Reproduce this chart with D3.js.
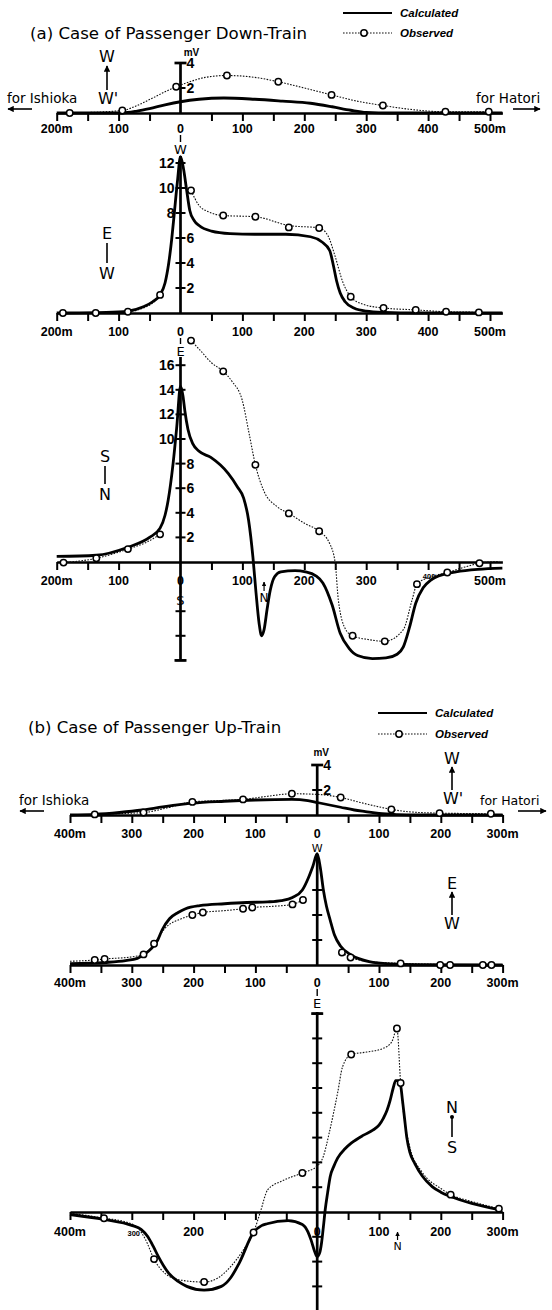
<!DOCTYPE html>
<html><head><meta charset="utf-8">
<script src="https://cdn.jsdelivr.net/npm/d3@7"></script>
<style>body{margin:0;background:#fff}svg{display:block}</style>
</head><body>
<script>
// ---------- DATA ----------
// (a) Passenger Down-Train : distance (m, negative = toward Ishioka), mV
const aXLabelValues = [-200,-100,0,100,200,300,400,500];
const aXLabels = ["200m","100","0","100","200","300","400","500m"];
const a3XLabelValues = [-200,-100,0,100,200,300,500];
const a3XLabels = ["200m","100","0","100","200","300","500m"];

const a1YTicks = [2,4];
const a2YTicks = [2,4,6,8,10,12];
const a3YTicks = [16,14,12,10,8,6,4,2,-4,-6,-8];

const a1Calc = [[-200,0],[-95,0],[-70,0.15],[-50,0.35],[-25,0.65],[0,0.9],[30,1.1],[70,1.2],[120,1.1],[165,0.95],[210,0.78],[245,0.5],[275,0.22],[300,0.05],[340,0],[520,0]];
const a1ObsLine = [[-179,0],[-94,0.2],[-70,0.6],[-45,1.2],[-25,1.7],[-7,2.1],[15,2.5],[40,2.85],[75,3.0],[120,2.85],[158,2.5],[200,2.0],[244,1.45],[285,0.95],[327,0.6],[370,0.3],[428,0.1],[498,0.1]];
const a1ObsPts = [[-179,0],[-94,0.2],[-7,2.1],[75,3.0],[158,2.5],[244,1.45],[327,0.6],[428,0.1],[498,0.1]];

const a2Calc = [[-200,0],[-120,0.05],[-85,0.15],[-60,0.5],[-45,0.9],[-33,1.45],[-25,2.4],[-19,4.0],[-14,6],[-10,8],[-5,10.5],[0,12.5],[5,11.5],[10,9.8],[15,8.2],[22,7.4],[30,7.0],[50,6.55],[80,6.35],[120,6.3],[170,6.3],[210,6.1],[228,5.7],[241,5.0],[247,3.8],[252,2.6],[258,1.6],[266,0.9],[280,0.4],[300,0.15],[330,0.05],[380,0],[520,0]];
const a2ObsLine = [[-190,0],[-137,0],[-85,0.1],[-60,0.4],[-45,0.8],[-33,1.45],null,[17,9.8],[30,8.6],[45,8.1],[69,7.8],[121,7.7],[175,7.0],[224,6.8],[238,6.2],[250,4.5],[262,2.5],[275,1.3],[295,0.7],[328,0.4],[380,0.25],[429,0.1],[482,0.05],[505,0]];
const a2ObsPts = [[-190,0],[-137,0],[-85,0.1],[-33,1.45],[17,9.8],[69,7.8],[121,7.7],[175,6.85],[224,6.8],[275,1.3],[328,0.4],[380,0.25],[429,0.1],[482,0.05]];

const a3Calc = [[-200,0.45],[-136,0.55],[-85,1.2],[-50,2.0],[-33,2.75],[-25,3.8],[-20,5.0],[-12,8],[-6,11],[0,14.3],[4,13.5],[7,12.3],[12,10.8],[20,9.6],[30,9.0],[49,8.5],[77,7.2],[92,6.1],[102,5.2],[110,3.4],[117,0.4],[122,-2.5],[127,-5],[131,-6.0],[135,-5.5],[140,-3.8],[145,-2.3],[152,-1.2],[162,-0.8],[185,-0.7],[202,-0.8],[218,-1.1],[230,-1.7],[245,-3.5],[258,-5.8],[272,-7.0],[286,-7.6],[310,-7.85],[332,-7.8],[350,-7.5],[360,-6.9],[370,-5.3],[380,-3.35],[392,-2.1],[405,-1.45],[425,-1.0],[445,-0.8],[480,-0.6],[520,-0.5]];
const a3ObsLine = [[-189,-0.05],[-136,0.3],[-85,1.05],[-55,1.6],[-33,2.25],null,[17,18.0],[32,17.2],[50,16.2],[69,15.5],[83,14.7],[100,13.1],[111,10.4],[121,7.9],[134,5.85],[156,4.5],[175,3.95],[202,3.1],[224,2.5],[241,1.5],[250,-0.1],[255,-3.1],[267,-5.5],[278,-6.0],[303,-6.3],[330,-6.45],[360,-5.5],[374,-3.1],[382,-1.8],[405,-1.2],[431,-0.85],[460,-0.4],[483,-0.1],[515,0.05]];
const a3ObsPts = [[-189,-0.05],[-136,0.3],[-85,1.05],[-33,2.25],[17,18.0],[69,15.5],[121,7.9],[175,3.95],[224,2.5],[278,-6.0],[330,-6.45],[382,-1.8],[431,-0.85],[483,-0.1]];

// (b) Passenger Up-Train
const bXLabelValues = [-400,-300,-200,-100,0,100,200,300];
const bXLabels = ["400m","300","200","100","0","100","200","300m"];
const b3XLabelValues = [-400,-200,0,100,200,300];
const b3XLabels = ["400m","200","0","100","200","300m"];

const b1YTicks = [2,4];
const b2YTicks = [2,4,6];
const b3YTicks = [16,14,12,10,8,6,4,2,-2,-4,-6,-8];

const b1Calc = [[-400,0],[-360,0.05],[-320,0.2],[-283,0.4],[-250,0.65],[-220,0.85],[-202,0.95],[-150,1.1],[-100,1.2],[-41,1.25],[-15,1.15],[0,1.0],[20,0.8],[38,0.62],[60,0.4],[78,0.27],[100,0.12],[130,0.03],[160,0],[300,0]];
const b1ObsLine = [[-370,0.03],[-360,0.05],[-281,0.2],[-240,0.6],[-202,1.05],[-160,1.15],[-120,1.25],[-80,1.5],[-41,1.7],[0,1.65],[38,1.4],[70,1.0],[100,0.65],[120,0.45],[150,0.25],[198,0.15],[240,0.12],[281,0.1]];
const b1ObsPts = [[-360,0.05],[-281,0.2],[-202,1.05],[-120,1.25],[-41,1.7],[38,1.4],[120,0.45],[198,0.15],[281,0.1]];

const b2Calc = [[-400,0.1],[-343,0.2],[-310,0.35],[-291,0.53],[-280,0.85],[-268,1.33],[-258,2.0],[-251,2.8],[-239,3.7],[-225,4.2],[-213,4.5],[-190,4.75],[-150,4.9],[-114,5.0],[-80,5.05],[-58,5.15],[-40,5.4],[-24,6.0],[-14,7.0],[-7,7.9],[0,8.9],[5,7.8],[10,6.0],[15,4.7],[21,3.6],[28,2.4],[38,1.5],[55,0.8],[84,0.27],[120,0.08],[160,0.02],[300,0]];
const b2ObsLine = [[-400,0.3],[-360,0.4],[-344,0.48],[-300,0.65],[-281,0.85],[-264,1.7],[-245,3.0],[-220,3.7],[-202,4.0],[-185,4.2],[-150,4.35],[-120,4.5],[-105,4.6],[-70,4.7],[-40,4.85],[-23,5.2],null,[40,1.0],[54,0.6],[90,0.25],[135,0.13],[199,0.05],[215,0.03],[268,0.02],[282,0]];
const b2ObsPts = [[-360,0.4],[-344,0.48],[-281,0.85],[-264,1.7],[-202,4.0],[-185,4.2],[-120,4.5],[-105,4.6],[-40,4.85],[-23,5.2],[40,1.0],[54,0.6],[135,0.13],[199,0],[215,0],[268,0],[282,0]];

const b3Calc = [[-400,-0.2],[-345,-0.6],[-299,-1.1],[-285,-1.4],[-274,-2.0],[-265,-2.8],[-257,-3.6],[-240,-4.95],[-225,-5.6],[-211,-6.0],[-183,-6.3],[-155,-6.0],[-140,-5.3],[-126,-4.1],[-103,-1.65],[-90,-1.1],[-81,-0.95],[-47,-0.7],[-24,-1.0],[-15,-1.6],[-10,-2.25],[-4,-3.2],[0,-3.6],[4,-3.3],[7,-2.5],[10,-1.2],[13,0.2],[17,1.6],[21,2.85],[27,3.7],[33,4.35],[45,5.1],[55,5.55],[75,6.2],[90,6.6],[100,7.0],[107,7.55],[113,8.2],[118,9.0],[123,10.0],[127,10.6],[131,10.6],[135,10.2],[138,9.0],[141,7.7],[145,6.0],[150,4.8],[158,3.9],[170,2.9],[186,2.05],[200,1.6],[216,1.25],[250,0.7],[294,0.2]];
const b3ObsLine = [[-400,-0.1],[-370,-0.3],[-345,-0.5],[-310,-0.8],[-290,-1.3],[-278,-2.2],[-264,-3.8],[-245,-5.0],[-220,-5.5],[-183,-5.65],[-160,-5.3],[-140,-4.4],[-120,-3.1],[-103,-1.65],[-92,0],[-80,1.8],[-57,2.5],[-24,3.15],[0,3.7],[10,4.5],[20,6.5],[33,9.6],[41,11.7],[55,12.7],[80,12.9],[107,13.2],[121,13.75],[129,14.8],[135,10.4],[150,5.2],[170,3.2],[200,1.9],[216,1.4],[250,0.85],[294,0.27]];
const b3ObsPts = [[-345,-0.5],[-264,-3.8],[-183,-5.65],[-103,-1.65],[-24,3.15],[55,12.7],[129,14.8],[135,10.4],[216,1.4],[294,0.27]];

// ---------- DRAWING ----------
const W = 552, H = 1310;
const svg = d3.select("body").append("svg").attr("width", W).attr("height", H);
const defs = svg.append("defs");
defs.append("marker").attr("id","ah").attr("viewBox","0 0 10 10").attr("refX",9).attr("refY",5)
  .attr("markerWidth",4).attr("markerHeight",4).attr("orient","auto")
  .append("path").attr("d","M0,0L10,5L0,10Z").attr("fill","#000");

const NUM = "'Liberation Sans Narrow','Liberation Sans',sans-serif";
const SANS = "'DejaVu Sans',sans-serif";

const xa = d3.scaleLinear().domain([-200, 520]).range([180.5 - 200*0.619, 180.5 + 520*0.619]);
const xb = d3.scaleLinear().domain([-400, 300]).range([317.2 - 400*0.618, 317.2 + 300*0.618]);
function ys(zero, ppu){ return d3.scaleLinear().domain([0,1]).range([zero, zero - ppu]); }

const ya1 = ys(113, 12.5), ya2 = ys(313, 12.5), ya3 = ys(562, 12.3);
const yb1 = ys(815, 12.5), yb2 = ys(965, 12.5), yb3 = ys(1212, 12.4);

function xAxis(x, y, tickVals){
  const g = svg.append("g").attr("transform", `translate(0,${y(0)})`)
    .call(d3.axisBottom(x).tickValues(tickVals).tickSize(8).tickSizeOuter(0).tickFormat(""));
  g.select(".domain").attr("stroke","#000").attr("stroke-width",2.7);
  g.selectAll(".tick line").attr("stroke","#000").attr("stroke-width",2);
}
function xLabels(x, ly, vals, labels){
  svg.append("g").selectAll("text").data(vals).join("text")
    .attr("x", d => x(d)).attr("y", ly).attr("text-anchor","middle")
    .attr("dominant-baseline","central")
    .style("font-family", NUM).style("font-weight","bold").style("font-size","12.5px")
    .text((d,i) => labels[i]);
}
function yAxis(x0, y, top, bottom, ticks, labRight, labLeft, bars){
  svg.append("line").attr("x1",x0).attr("x2",x0).attr("y1",top).attr("y2",bottom)
    .attr("stroke","#000").attr("stroke-width",2.7);
  svg.append("g").selectAll("line").data(ticks).join("line")
    .attr("x1",x0-5).attr("x2",x0+5).attr("y1",d=>y(d)).attr("y2",d=>y(d))
    .attr("stroke","#000").attr("stroke-width",2);
  svg.append("g").selectAll("line").data(bars).join("line")
    .attr("x1",x0-6).attr("x2",x0+6).attr("y1",d=>y(d)).attr("y2",d=>y(d))
    .attr("stroke","#000").attr("stroke-width",2.7);
  const st = s => s.style("font-family",NUM).style("font-weight","bold").style("font-size","14px")
    .attr("dominant-baseline","central");
  svg.append("g").selectAll("text").data(labRight).join("text")
    .attr("x",x0+6).attr("y",d=>y(d)).attr("text-anchor","start").call(st).text(d=>d);
  svg.append("g").selectAll("text").data(labLeft).join("text")
    .attr("x",x0-6).attr("y",d=>y(d)).attr("text-anchor","end").call(st).text(d=>d);
}
function curves(x, y, calc, obsLine, obsPts){
  const line = d3.line().defined(d => d !== null).x(d => x(d[0])).y(d => y(d[1])).curve(d3.curveMonotoneX);
  svg.append("path").datum(obsLine).attr("d", line).attr("fill","none")
    .attr("stroke","#111").attr("stroke-width",1.1).attr("stroke-dasharray","1.6,1.4");
  svg.append("path").datum(calc).attr("d", line).attr("fill","none")
    .attr("stroke","#000").attr("stroke-width",2.8).attr("stroke-linejoin","round");
  svg.append("g").selectAll("circle").data(obsPts).join("circle")
    .attr("cx", d => x(d[0])).attr("cy", d => y(d[1])).attr("r",3.2)
    .attr("fill","#fff").attr("stroke","#000").attr("stroke-width",1.5);
}
function text(x, y, s, size, opts={}){
  const t = svg.append("text").attr("x",x).attr("y",y).attr("dominant-baseline","central")
    .attr("text-anchor", opts.anchor || "start")
    .style("font-family", opts.family || SANS).style("font-size", size+"px")
    .style("font-weight", opts.weight || "normal").text(s);
  if (opts.style) t.style("font-style", opts.style);
  return t;
}
function seg(x1,y1,x2,y2,w,arrow){
  const l = svg.append("line").attr("x1",x1).attr("y1",y1).attr("x2",x2).attr("y2",y2)
    .attr("stroke","#000").attr("stroke-width",w||1.6);
  if (arrow) l.attr("marker-end","url(#ah)");
}
function legend(x0, x1, yc, yo, cx){
  seg(x0, yc, x1, yc, 2.2);
  text(x1+8, yc, "Calculated", 11.5, {family:NUM, weight:"bold", style:"italic"});
  svg.append("line").attr("x1",x0).attr("x2",x1).attr("y1",yo).attr("y2",yo)
    .attr("stroke","#111").attr("stroke-width",1.1).attr("stroke-dasharray","1.6,1.4");
  svg.append("circle").attr("cx",cx).attr("cy",yo).attr("r",3.2).attr("fill","#fff").attr("stroke","#000").attr("stroke-width",1.5);
  text(x1+8, yo, "Observed", 11.5, {family:NUM, weight:"bold", style:"italic"});
}
function zeroTag(x0, yNum, yLet, letter, size){
  if (yLet - yNum > 16) seg(x0, yNum+6, x0, yLet-7, 1.4);
  text(x0, yLet, letter, size || 13, {anchor:"middle"});
}

const FOR = {family:SANS};
// ----- (a) -----
text(30, 33, "(a) Case of Passenger Down-Train", 16.6);
legend(343, 392, 13, 33, 364);
const aTicks = d3.range(-200, 501, 50).filter(v => v !== 0);

// a1
text(7, 98, "for Ishioka", 13.5, FOR);
seg(32, 109, 8, 109, 1.6, true);
text(476, 98, "for Hatori", 13.5, FOR);
seg(513, 109, 540, 109, 1.6, true);
text(107, 56, "W", 16, {anchor:"middle"});
seg(107, 90, 107, 66, 1.6, true);
text(108, 98, "W'", 16, {anchor:"middle"});
xAxis(xa, ya1, aTicks);
xLabels(xa, 129, aXLabelValues, aXLabels);
yAxis(xa(0), ya1, ya1(4), ya1(0), [2], [4,2], [], [4]);
text(xa(0)+11, 52, "mV", 10, {family:NUM, weight:"bold", anchor:"middle"});
curves(xa, ya1, a1Calc, a1ObsLine, a1ObsPts);

// a2
zeroTag(xa(0), 129, 149, "W");
text(107, 233, "E", 16, {anchor:"middle"});
seg(107, 243, 107, 263, 1.6);
text(107, 273, "W", 16, {anchor:"middle"});
xAxis(xa, ya2, aTicks);
xLabels(xa, 332, aXLabelValues, aXLabels);
yAxis(xa(0), ya2, 156, ya2(0), a2YTicks, [6,4,2], [12,10,8], []);
curves(xa, ya2, a2Calc, a2ObsLine, a2ObsPts);

// a3
zeroTag(xa(0), 332, 351, "E");
text(105, 456, "S", 16, {anchor:"middle"});
seg(105, 466, 105, 484, 1.6);
text(105, 494, "N", 16, {anchor:"middle"});
xAxis(xa, ya3, aTicks);
xLabels(xa, 581, a3XLabelValues, a3XLabels);
text(xa(400)+1, 576, "400", 7.5, {family:NUM, weight:"bold", anchor:"middle"});
yAxis(xa(0), ya3, 357, ya3(-8), a3YTicks, [8,6,4,2], [16,14,12,10], [-8]);
zeroTag(xa(0), 581, 600, "S");
curves(xa, ya3, a3Calc, a3ObsLine, a3ObsPts);
seg(xa(135), 591, xa(135), 582, 1.2, true);
text(xa(135), 598, "N", 12, {anchor:"middle"});

// ----- (b) -----
text(28, 727, "(b) Case of Passenger Up-Train", 16.6);
legend(378, 427, 713, 734, 399);
const bTicks = d3.range(-400, 301, 50).filter(v => v !== 0);

// b1
text(19, 800, "for Ishioka", 13.5, FOR);
seg(44, 811, 20, 811, 1.6, true);
text(480, 800, "for Hatori", 12.5, FOR);
seg(518, 811, 546, 811, 1.6, true);
text(452, 758, "W", 16, {anchor:"middle"});
seg(452, 790, 452, 767, 1.6, true);
text(453, 798, "W'", 16, {anchor:"middle"});
xAxis(xb, yb1, bTicks);
xLabels(xb, 834, bXLabelValues, bXLabels);
yAxis(xb(0), yb1, yb1(4), yb1(0), [2], [4,2], [], [4]);
text(xb(0)+4, 752, "mV", 10, {family:NUM, weight:"bold", anchor:"middle"});
curves(xb, yb1, b1Calc, b1ObsLine, b1ObsPts);

// b2
zeroTag(xb(0), 834, 848, "W", 11);
text(452, 883, "E", 16, {anchor:"middle"});
seg(452, 915, 452, 892, 1.6, true);
text(452, 923, "W", 16, {anchor:"middle"});
xAxis(xb, yb2, bTicks);
xLabels(xb, 983, bXLabelValues, bXLabels);
yAxis(xb(0), yb2, 854, yb2(0), b2YTicks, [], [], []);
curves(xb, yb2, b2Calc, b2ObsLine, b2ObsPts);

// b3
zeroTag(xb(0), 983, 1003, "E");
text(452, 1107, "N", 16, {anchor:"middle"});
svg.append("circle").attr("cx",452).attr("cy",1117).attr("r",2).attr("fill","#000");
seg(452, 1117, 452, 1137, 1.6);
text(452, 1147, "S", 16, {anchor:"middle"});
xAxis(xb, yb3, bTicks);
xLabels(xb, 1232, b3XLabelValues, b3XLabels);
text(xb(-300)+2, 1233, "300", 7.5, {family:NUM, weight:"bold", anchor:"middle"});
yAxis(xb(0), yb3, 1012, 1310, b3YTicks, [], [], [16]);
curves(xb, yb3, b3Calc, b3ObsLine, b3ObsPts);
seg(xb(130), 1240, xb(130), 1232, 1.2, true);
text(xb(130), 1246, "N", 11, {anchor:"middle"});
</script>
</body></html>
